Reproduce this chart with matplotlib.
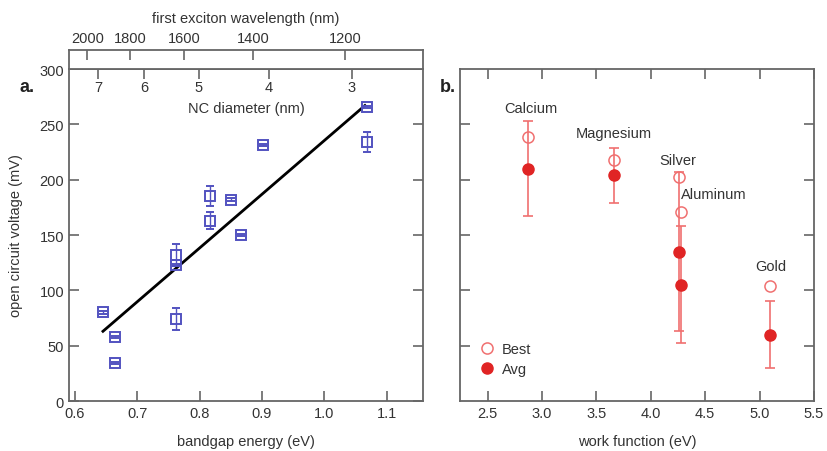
import numpy as np
import matplotlib
matplotlib.use("Agg")
import matplotlib.pyplot as plt

plt.rcParams['font.family'] = ['Liberation Sans', 'DejaVu Sans']

# panel a: Voc vs bandgap
bandgap = [0.645, 0.664, 0.664, 0.762, 0.762, 0.762, 0.816, 0.816, 0.850, 0.867, 0.902, 1.068, 1.068]
voc = [80, 58, 34, 74, 132, 123, 185, 163, 182, 150, 231, 266, 234]
voc_err = [1, 1, 1, 10, 10, 1, 9, 8, 1, 1, 1, 1, 9]
fit_energy = [0.645, 1.065]
fit_voc = [63, 267]

diameter_ticks = ['7', '6', '5', '4', '3']
diameter_energy = [0.637, 0.711, 0.799, 0.911, 1.044]
wavelength_ticks = [2000, 1800, 1600, 1400, 1200]

# panel b: Voc vs work function
metals = ['Calcium', 'Magnesium', 'Silver', 'Aluminum', 'Gold']
work_function = [2.87, 3.66, 4.26, 4.28, 5.10]
best_voc = [239, 218, 202, 171, 104]
avg_voc = [210, 204, 135, 105, 60]
avg_err = [43, 25, 72, 53, 30]
label_pos = [(2.90, 265), (3.66, 242), (4.25, 218), (4.58, 187), (5.10, 122)]

blue = '#5252c0'
red = '#e02424'
red_light = '#f07070'
spine = '#666666'
txt = '#333333'

fig = plt.figure(figsize=(8.27, 4.52), dpi=100)
ax = fig.add_axes([0.0834, 0.1106, 0.428, 0.7345])
strip = fig.add_axes([0.0834, 0.845, 0.428, 0.042])
axb = fig.add_axes([0.5562, 0.1106, 0.428, 0.7345])

for a in (ax, strip, axb):
    for s in a.spines.values():
        s.set_color(spine)
        s.set_linewidth(1.3)

# ---- panel a
ax.errorbar(bandgap, voc, yerr=voc_err, fmt='s', ms=6.5, mfc='none', mec=blue,
            mew=1.4, ecolor=blue, elinewidth=1.0, capsize=3, capthick=1.0, zorder=3)
ax.plot(fit_energy, fit_voc, color='black', lw=2)
ax.set_xlim(0.5905, 1.158)
ax.set_ylim(0, 300)
ax.set_xticks([0.6, 0.7, 0.8, 0.9, 1.0, 1.1])
ax.set_xticklabels(['0.6', '0.7', '0.8', '0.9', '1.0', '1.1'])
ax.set_yticks([0, 50, 100, 150, 200, 250, 300])
ax.tick_params(axis='both', direction='in', length=7, width=1.2, color=spine,
               labelsize=10.5, labelcolor=txt, right=True)
ax.set_xlabel('bandgap energy (eV)', fontsize=10.5, color=txt, labelpad=10)
ax.set_ylabel('open circuit voltage (mV)', fontsize=10.5, color=txt, labelpad=12)

ax_top = ax.twiny()
ax_top.set_xlim(ax.get_xlim())
ax_top.set_xticks(diameter_energy)
ax_top.set_xticklabels(diameter_ticks)
ax_top.tick_params(axis='x', direction='in', length=7, width=1.2, color=spine,
                   labelsize=10.5, labelcolor=txt, pad=-18)
for s in ax_top.spines.values():
    s.set_visible(False)
ax.text(0.5, 0.884, 'NC diameter (nm)', transform=ax.transAxes, ha='center',
        va='center', fontsize=10.5, color=txt)

strip.set_xlim(ax.get_xlim())
strip.set_yticks([])
strip.set_xticks([1240.0 / w for w in wavelength_ticks])
strip.set_xticklabels([str(w) for w in wavelength_ticks])
strip.tick_params(axis='x', direction='in', length=7, width=1.2, color=spine,
                  labelsize=10.5, labelcolor=txt, top=True, bottom=False,
                  labeltop=True, labelbottom=False, pad=4)
strip.set_xlabel('first exciton wavelength (nm)', fontsize=10.5, color=txt, labelpad=6)
strip.xaxis.set_label_position('top')

fig.text(20 / 827, 1 - 88 / 452, 'a.', fontsize=13, fontweight='bold', color='#222222',
         ha='left', va='center')

# ---- panel b
axb.errorbar(work_function, avg_voc, yerr=avg_err, fmt='none', ecolor=red_light,
             elinewidth=1.2, capsize=3.5, capthick=1.2, zorder=2)
axb.plot(work_function, best_voc, 'o', ms=8, mfc='none', mec=red_light, mew=1.1,
         ls='none', label='Best', zorder=3)
axb.plot(work_function, avg_voc, 'o', ms=8, color=red, ls='none', label='Avg', zorder=4)
for name, (lx, ly) in zip(metals, label_pos):
    axb.text(lx, ly, name, ha='center', va='center', fontsize=10.5, color=txt)
axb.set_xlim(2.246, 5.49)
axb.set_ylim(0, 300)
axb.set_xticks([2.5, 3.0, 3.5, 4.0, 4.5, 5.0, 5.5])
axb.set_xticklabels(['2.5', '3.0', '3.5', '4.0', '4.5', '5.0', '5.5'])
axb.set_yticks([50, 100, 150, 200, 250])
axb.tick_params(axis='both', direction='in', length=7, width=1.2, color=spine,
                labelsize=10.5, labelcolor=txt, right=True, top=True, labelleft=False)
axb.set_xlabel('work function (eV)', fontsize=10.5, color=txt, labelpad=10)
leg = axb.legend(loc='lower left', bbox_to_anchor=(0.015, 0.035), frameon=False,
                 fontsize=10.5, handletextpad=0.4, labelspacing=0.45, handlelength=1.2)
for t in leg.get_texts():
    t.set_color(txt)

fig.text(440 / 827, 1 - 88 / 452, 'b.', fontsize=13, fontweight='bold', color='#222222',
         ha='left', va='center')

fig.savefig('out.png', dpi=100)
